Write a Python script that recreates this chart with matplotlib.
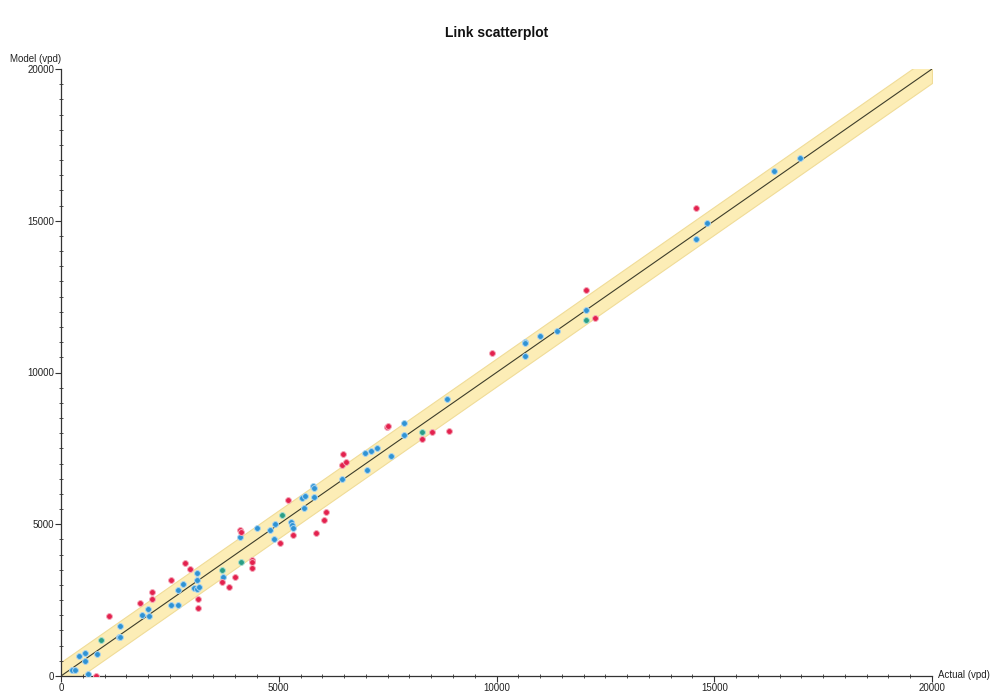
import matplotlib
matplotlib.use("Agg")
import matplotlib.pyplot as plt
from matplotlib.ticker import MultipleLocator
import numpy as np

plt.rcParams['font.family'] = ['Liberation Sans', 'DejaVu Sans']

# ---- data (vpd) ----
blue_actual = [250, 320, 620, 550, 410, 540, 830, 1330, 1350, 1360, 1860, 2000, 2010,
               2530, 2690, 2690, 2810, 3050, 3130, 3170, 3120, 3120, 3730, 4110, 4510,
               4790, 4920, 4890, 5280, 5300, 5330, 5530, 5610, 5590, 5790, 5800, 5820,
               6450, 6980, 7110, 7260, 7020, 7570, 7880, 7880, 8860, 10650, 10650,
               10650, 11010, 11380, 12060, 14570, 14840, 16380, 16980]
blue_model = [200, 200, 80, 480, 660, 770, 720, 1280, 1300, 1650, 2020, 2220, 1980,
              2350, 2350, 2830, 3030, 2890, 2860, 2920, 3160, 3380, 3250, 4580, 4880,
              4800, 5020, 4510, 5080, 4980, 4880, 5850, 5930, 5520, 6270, 6180, 5900,
              6490, 7340, 7410, 7520, 6790, 7250, 8330, 7940, 9140, 11000, 10960,
              10540, 11210, 11370, 12060, 14390, 14920, 16650, 17060]

teal_actual = [910, 3700, 4130, 5080, 8300, 12060]
teal_model = [1170, 3490, 3770, 5300, 8030, 11730]

red_actual = [810, 1110, 1820, 2080, 2080, 2530, 2850, 2960, 3140, 3150, 3700, 3860,
              4000, 4390, 4390, 4390, 4110, 4130, 5040, 5320, 5220, 6090, 6050, 5850,
              6480, 6450, 6540, 7480, 7520, 8300, 8530, 8900, 9890, 12060, 12260, 14570]
red_model = [0, 1990, 2400, 2780, 2550, 3160, 3710, 3520, 2540, 2230, 3100, 2920,
             3270, 3820, 3750, 3550, 4810, 4730, 4370, 4640, 5790, 5400, 5140, 4710,
             7320, 6950, 7050, 8210, 8240, 7810, 8030, 8060, 10630, 12720, 11790, 15410]

axis_max = 20000
band_halfwidth = 460
tick_major = 5000
tick_minor = 500

fig = plt.figure(figsize=(9.91, 6.93), dpi=100)
ax = fig.add_axes([61/991, 17/693, (932-61)/991, (676-69)/693])

xs = np.array([0, axis_max])
ax.fill_between(xs, xs - band_halfwidth, xs + band_halfwidth, color='#fcedb6',
                edgecolor='#f0dc98', linewidth=0.8, zorder=1)
ax.plot(xs, xs, color='#3d3d2a', linewidth=0.8, zorder=2)

ms = 4.2
ax.plot(blue_actual, blue_model, 'o', color='#2f93d4', markeredgecolor='#a9d3ef',
        markeredgewidth=0.7, markersize=ms, zorder=3)
ax.plot(teal_actual, teal_model, 'o', color='#2a9e86', markeredgecolor='#a6dccf',
        markeredgewidth=0.7, markersize=ms, zorder=3)
ax.plot(red_actual, red_model, 'o', color='#e3214e', markeredgecolor='#f4a7b8',
        markeredgewidth=0.7, markersize=ms, zorder=3)

ax.set_xlim(0, axis_max)
ax.set_ylim(0, axis_max)
for s in ['top', 'right']:
    ax.spines[s].set_visible(False)
for s in ['left', 'bottom']:
    ax.spines[s].set_color('#333333')
    ax.spines[s].set_linewidth(0.9)

ax.xaxis.set_major_locator(MultipleLocator(tick_major))
ax.yaxis.set_major_locator(MultipleLocator(tick_major))
ax.xaxis.set_minor_locator(MultipleLocator(tick_minor))
ax.yaxis.set_minor_locator(MultipleLocator(tick_minor))
ax.tick_params(which='major', direction='out', length=4, width=0.8, colors='#333333',
               labelsize=7, labelcolor='#222222', pad=1)
ax.tick_params(which='minor', direction='inout', length=3, width=0.6, colors='#333333')

fig.text(497/991, 1 - 33/693, 'Link scatterplot', ha='center', va='center',
         fontsize=10, fontweight='bold', color='#111111')
fig.text(36/991, 1 - 59/693, 'Model (vpd)', ha='center', va='center',
         fontsize=7, color='#222222')
fig.text(938/991, 1 - 675/693, 'Actual (vpd)', ha='left', va='center',
         fontsize=7, color='#222222')

fig.savefig('out.png', dpi=100, facecolor='white')
